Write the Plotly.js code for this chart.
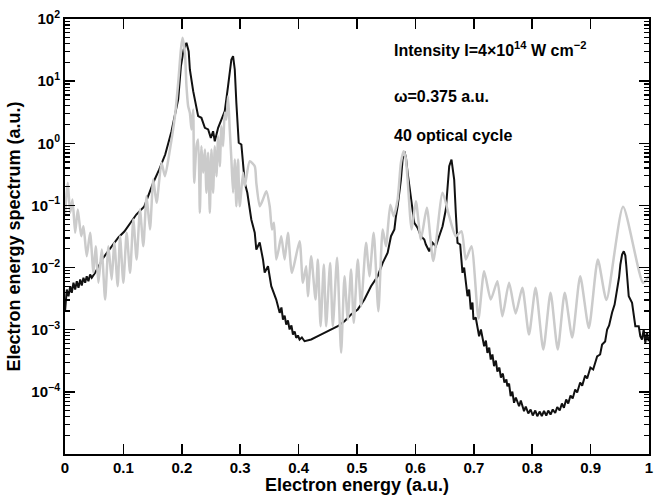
<!DOCTYPE html>
<html><head><meta charset="utf-8">
<script src="https://cdn.plot.ly/plotly-3.0.1.min.js"></script>
<style>html,body{margin:0;padding:0;background:#fff}#chart{width:654px;height:495px}</style>
</head><body><div id="chart"></div>
<script>
const blackX = [0,0.0014,0.0031,0.006,0.0089,0.0116,0.0145,0.0174,0.0202,0.0231,0.026,0.0287,0.0316,0.0345,0.0372,0.0401,0.043,0.0458,0.0516,
0.0658,0.0794,0.0914,0.1016,0.1119,0.1221,0.1358,0.1512,0.1614,0.1716,0.1824,0.1938,0.1985,0.2032,0.208,0.2118,0.2138,0.2195,0.228,0.2336,0.2395,0.2451,0.2497,0.2536,0.2565,0.2622,0.2678,0.2736,0.2792,0.2849,0.2878,0.2907,0.2934,0.2963,0.2975,0.302,0.3049,0.3078,0.3122,0.3163,0.319,0.3249,0.3276,0.3334,0.339,0.3419,0.3476,0.3532,0.359,0.3617,
0.3676,0.3706,0.3732,0.3761,0.3788,0.3817,0.3846,0.3877,0.3903,0.3932,0.3959,0.3988,0.4017,0.4056,0.4102,0.4215,0.433,0.4444,0.4557,0.4671,0.4786,0.4898,0.5013,0.5127,0.524,0.5354,0.544,0.5525,0.5582,0.564,0.5667,0.5696,0.5752,0.5781,0.581,0.5838,0.5867,0.5923,0.5981,0.6038,0.6094,0.6152,0.6179,0.6237,0.6294,0.635,0.6408,0.6465,0.6521,0.655,0.6579,0.6618,0.6664,0.6692,0.6721,0.6767,0.6806,0.6835,0.6863,0.6892,0.692,0.6948,0.6977,0.6994,0.7033,0.7091,0.7122,0.7177,0.7207,0.7233,0.7264,0.729,0.7319,0.7347,0.7378,0.7404,0.7438,0.7464,0.7498,0.7524,0.7558,0.7575,0.7604,0.7631,0.766,0.7689,0.772,0.7775,0.7805,0.786,0.789,0.7933,0.7973,0.801,0.8053,0.8087,0.813,0.8164,0.8202,0.8241,0.8275,0.8314,0.8352,0.8394,0.8429,0.8471,0.8509,0.8543,0.8582,0.8617,0.8656,0.8693,0.8736,0.877,0.8821,0.8856,0.8907,0.8941,0.8997,0.9044,0.9112,0.9163,0.9197,0.9249,0.9283,0.9317,0.9368,0.9411,0.9453,0.9487,0.951,0.9539,0.9568,0.9595,0.9612,0.9653,0.971,0.9749,0.9766,0.9824,0.9851,0.988,0.9909,0.9937,0.9966,0.9995];
const blackY = [1.96e-3,3.06e-3,4.43e-3,3.46e-3,5.01e-3,3.93e-3,5.69e-3,4.43e-3,6.03e-3,4.72e-3,6.43e-3,5.14e-3,6.84e-3,5.69e-3,7.26e-3,6.03e-3,7.73e-3,6.84e-3,8.24e-3,
1.45e-2,2.18e-2,3.05e-2,3.80e-2,5.12e-2,7.14e-2,9.62e-2,0.234,0.379,0.660,1.56,5.07,17.4,32.3,41.4,30.0,15.4,6.89,2.73,2.57,1.77,1.67,1.22,1.56,1.08,1.77,2.41,3.28,8.29,22.3,25.2,15.4,4.48,1.67,1.02,0.956,0.485,0.231,0.160,8.60e-2,5.94e-2,3.63e-2,1.95e-2,2.53e-2,1.35e-2,8.33e-3,1.05e-2,5.01e-3,3.46e-3,3.06e-3,
1.87e-3,2.28e-3,1.46e-3,1.69e-3,1.21e-3,1.41e-3,1.01e-3,1.17e-3,8.37e-4,9.35e-4,7.41e-4,8.07e-4,6.96e-4,7.49e-4,6.53e-4,6.96e-4,7.86e-4,8.92e-4,1.01e-3,1.14e-3,1.37e-3,1.76e-3,2.12e-3,3.06e-3,5.01e-3,7.26e-3,1.19e-2,1.73e-2,3.20e-2,4.10e-2,6.70e-2,9.71e-2,0.261,0.548,0.746,0.590,0.335,0.125,5.25e-2,4.36e-2,3.20e-2,2.83e-2,2.35e-2,1.83e-2,2.50e-2,2.21e-2,3.20e-2,4.63e-2,8.60e-2,0.231,0.428,0.548,0.261,7.61e-2,2.50e-2,2.35e-2,8.24e-3,1.00e-2,5.69e-3,3.46e-3,4.43e-3,2.12e-3,2.74e-3,1.46e-3,1.57e-3,7.86e-4,1.01e-3,5.43e-4,6.70e-4,4.25e-4,5.17e-4,3.31e-4,3.99e-4,2.59e-4,3.19e-4,2.12e-4,2.46e-4,1.70e-4,1.97e-4,1.41e-4,1.58e-4,1.23e-4,1.36e-4,8.51e-5,1.01e-4,6.67e-5,8.11e-5,5.87e-5,7.26e-5,4.88e-5,5.81e-5,4.48e-5,5.20e-5,4.16e-5,5.01e-5,4.06e-5,4.82e-5,4.06e-5,4.92e-5,4.16e-5,5.01e-5,4.32e-5,5.20e-5,4.57e-5,5.70e-5,5.01e-5,6.49e-5,5.53e-5,7.53e-5,6.49e-5,8.73e-5,7.82e-5,1.09e-4,9.76e-5,1.41e-4,1.26e-4,1.83e-4,1.64e-4,2.46e-4,2.29e-4,3.71e-4,3.99e-4,5.78e-4,6.46e-4,1.01e-3,1.17e-3,1.89e-3,2.54e-3,4.43e-3,6.92e-3,1.12e-2,1.62e-2,1.83e-2,1.56e-2,1.05e-2,3.46e-3,2.71e-3,1.65e-3,1.14e-3,1.14e-3,7.86e-4,6.96e-4,1.01e-3,6.16e-4,8.92e-4,6.53e-4];

const grayX = [0,0.0026,0.0048,0.0089,0.0128,0.0174,0.0219,0.0277,0.0316,0.0372,0.043,0.0487,0.0526,0.0572,0.0629,0.0687,0.0743,0.0799,0.0845,0.0902,0.0943,0.0999,0.1056,0.1114,0.117,0.1226,0.1284,0.1341,0.1397,0.1455,0.1512,0.1568,0.1653,0.1711,0.1797,0.1882,0.1938,0.1985,0.2012,0.2053,0.208,0.2109,0.2138,0.2166,0.2195,0.2212,0.2251,0.228,0.2309,0.2336,0.2366,0.2395,0.2422,0.2451,0.248,0.2507,0.2536,0.2565,0.2593,0.2622,0.2651,0.2678,0.2707,0.2736,0.2763,0.2792,0.2821,0.2849,0.2878,0.2907,0.2934,0.2963,0.2992,0.3049,0.3078,0.3163,0.3249,0.3276,0.3334,0.339,0.3447,0.3505,0.3544,0.3578,0.3617,0.3658,0.3703,0.3761,0.3817,0.3886,0.4017,0.4073,0.413,0.4159,0.4215,0.429,0.433,0.4376,0.4432,0.4471,0.454,0.4586,0.4659,0.4728,0.4786,0.4842,0.4898,0.4945,0.5013,0.5069,0.5155,0.5213,0.5286,0.5366,0.544,0.5496,0.5571,0.5628,0.5696,0.5752,0.5798,0.5833,0.5867,0.5935,0.6009,0.6094,0.6196,0.6306,0.6465,0.6579,0.6692,0.6789,0.6863,0.696,0.708,0.7177,0.729,0.7404,0.7489,0.7604,0.7717,0.7831,0.7945,0.8058,0.819,0.8314,0.8437,0.8557,0.8685,0.8822,0.897,0.9124,0.9271,0.9556,0.9898,1.0];
const grayY = [7.14e-2,0.150,0.231,7.61e-2,0.125,3.63e-2,8.60e-2,3.20e-2,4.63e-2,1.52e-2,3.63e-2,8.24e-3,2.21e-2,5.69e-3,1.95e-2,3.06e-3,2.21e-2,6.43e-3,2.50e-2,5.01e-3,3.20e-2,5.69e-3,3.63e-2,8.24e-3,5.93e-2,1.35e-2,8.60e-2,2.21e-2,0.141,4.10e-2,0.261,0.110,0.485,0.295,0.794,2.73,9.40,32.3,49.8,28.6,8.29,3.95,3.09,1.67,3.50,0.231,0.898,1.15,7.61e-2,0.898,0.335,0.794,0.160,0.703,7.61e-2,0.794,0.160,0.898,0.295,1.30,0.428,1.88,0.898,3.09,2.41,5.72,1.67,0.548,0.160,0.548,9.71e-2,0.548,9.71e-2,0.335,0.204,0.515,0.428,0.231,9.71e-2,0.125,0.169,9.71e-2,4.10e-2,5.25e-2,1.35e-2,1.95e-2,3.20e-2,1.35e-2,3.63e-2,8.24e-3,2.66e-2,5.69e-3,1.05e-2,3.46e-3,1.52e-2,3.06e-3,1.35e-2,1.14e-3,1.12e-2,1.14e-3,1.19e-2,1.14e-3,1.44e-2,4.25e-4,7.26e-3,1.46e-3,9.31e-3,1.29e-3,1.35e-2,2.39e-3,2.50e-2,7.26e-3,3.63e-2,1.98e-3,4.10e-2,2.21e-2,0.103,6.70e-2,0.125,0.485,0.746,0.590,0.261,4.10e-2,0.117,2.83e-2,9.16e-2,1.27e-2,0.160,6.70e-2,3.20e-2,3.85e-2,1.35e-2,2.21e-2,1.51e-3,8.74e-3,3.06e-3,6.03e-3,1.65e-3,5.69e-3,1.82e-3,4.72e-3,8.37e-4,4.72e-3,4.80e-4,3.93e-3,4.80e-4,3.93e-3,7.49e-4,7.26e-3,1.07e-3,1.35e-2,3.01e-3,9.51e-2,5.69e-3,7.26e-3];

const xTickVals = [0,0.1,0.2,0.3,0.4,0.5,0.6,0.7,0.8,0.9,1];
const xTickText = ['0','0.1','0.2','0.3','0.4','0.5','0.6','0.7','0.8','0.9','1'];
const yTickVals = [1e-4,1e-3,1e-2,1e-1,1,10,100];
const yTickText = ['10<sup>−4</sup>','10<sup>−3</sup>','10<sup>−2</sup>','10<sup>−1</sup>','10<sup>0</sup>','10<sup>1</sup>','10<sup>2</sup>'];
const yMinorVals = [];
for (let e = -5; e < 2; e++) for (let m = 2; m <= 9; m++) yMinorVals.push(m * Math.pow(10, e));
const infoLines = ['Intensity I=4×10<sup>14</sup> W cm<sup>−2</sup>', 'ω=0.375 a.u.', '40 optical cycle'];

const FONT = 'Liberation Sans, Arial, sans-serif';
const traces = [
  {x: blackX, y: blackY, type: 'scatter', mode: 'lines', line: {color: '#111111', width: 2}, hoverinfo: 'skip'},
  {x: grayX, y: grayY, type: 'scatter', mode: 'lines', line: {color: '#cbcbcb', width: 2.5, shape: 'spline', smoothing: 0.6}, hoverinfo: 'skip'}
];
const infoY = [0.930, 0.8225, 0.7322];
const layout = {
  width: 654, height: 495,
  margin: {l: 65, r: 5, t: 19, b: 41},
  paper_bgcolor: '#fff', plot_bgcolor: '#fff',
  showlegend: false,
  font: {family: FONT, size: 15, color: '#000', weight: 'bold'},
  xaxis: {
    range: [0, 1], tickmode: 'array', tickvals: xTickVals, ticktext: xTickText,
    ticks: 'inside', ticklen: 10, tickwidth: 1.5, tickcolor: '#000',
    showline: true, linewidth: 2, linecolor: '#000', mirror: 'ticks',
    showgrid: false, zeroline: false, ticklabelstandoff: -1, ticklabeloverflow: 'allow',
    tickfont: {family: FONT, size: 15, weight: 'bold'},
    title: {text: 'Electron energy (a.u.)', font: {family: FONT, size: 18, weight: 'bold'}, standoff: 4}
  },
  yaxis: {
    type: 'log', range: [-5, 2], tickmode: 'array', tickvals: yTickVals, ticktext: yTickText,
    ticks: 'inside', ticklen: 10, tickwidth: 1.5, tickcolor: '#000',
    minor: {tickmode: 'array', tickvals: yMinorVals, ticks: 'inside', ticklen: 5, tickwidth: 1.2, tickcolor: '#000'},
    showline: true, linewidth: 2, linecolor: '#000', mirror: 'ticks',
    showgrid: false, zeroline: false, ticklabeloverflow: 'allow',
    tickfont: {family: FONT, size: 15, weight: 'bold'},
    title: {text: 'Electron energy spectrum (a.u.)', font: {family: FONT, size: 18, weight: 'bold'}, standoff: 6}
  },
  annotations: infoLines.map((t, i) => ({
    text: t, xref: 'paper', yref: 'paper', x: 0.56, y: infoY[i],
    xanchor: 'left', yanchor: 'middle', showarrow: false,
    font: {family: FONT, size: 16, weight: 'bold', color: '#000'}
  }))
};
Plotly.newPlot('chart', traces, layout, {staticPlot: true});
</script></body></html>
